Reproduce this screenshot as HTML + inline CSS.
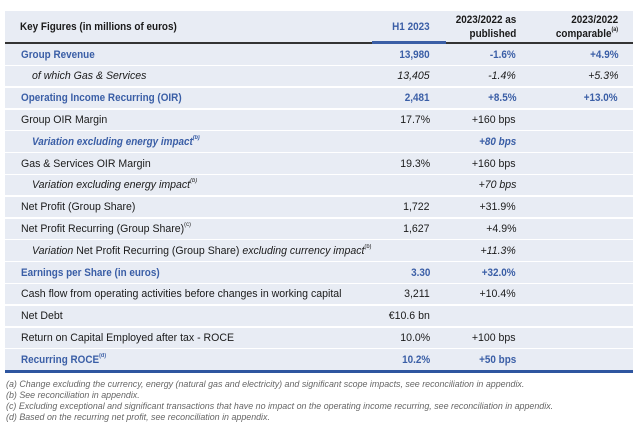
<!DOCTYPE html>
<html><head><meta charset="utf-8"><style>
body{margin:0;width:640px;height:435px;background:#fff;font-family:"Liberation Sans",sans-serif;color:#1a1a1a;position:relative;overflow:hidden}
.bg{position:absolute;left:5px;top:11px;width:628px;height:361px;background:#e8ecf4}
.sep{position:absolute;left:5px;width:628px;height:1.5px;background:#fff}
.t{position:absolute;font-size:11px;white-space:nowrap;line-height:14px}
.l{transform:scaleX(.96);transform-origin:left center}
.r{transform:scaleX(.96);transform-origin:right center;text-align:right}
.l.bo,.l.b{transform:scaleX(.9)}
.r.bo,.r.b{transform:scaleX(.9)}
.bo{font-weight:bold}
.b{color:#3a5ea6;font-weight:bold}
.i{font-style:italic}
sup{font-size:6px;vertical-align:top;line-height:6px}
.fn{position:absolute;left:6px;font-size:8.9px;font-style:italic;color:#666;white-space:nowrap;line-height:10px}
</style></head><body>
<div class="bg"></div>
<div style="position:absolute;left:5px;top:42px;width:628px;height:1.5px;background:#333"></div>
<div style="position:absolute;left:372px;top:41px;width:74px;height:3px;background:#3a5ea6"></div>
<div style="position:absolute;left:5px;top:370px;width:628px;height:3px;background:#2f56a0"></div>
<div id="rows"></div>
<div class="t l bo" style="left:20px;top:20px">Key Figures (in millions of euros)</div>
<div class="t r b" style="right:210px;top:20px">H1 2023</div>
<div class="t r bo" style="right:124px;top:13px">2023/2022 as<br>published</div>
<div class="t r bo" style="right:22px;top:13px">2023/2022<br>comparable<sup>(a)</sup></div>
<script>
(function(){
var rows=[
["Group Revenue","13,980","-1.6%","+4.9%","b",0],
["of which Gas &amp; Services","13,405","-1.4%","+5.3%","i",1],
["Operating Income Recurring (OIR)","2,481","+8.5%","+13.0%","b",0],
["Group OIR Margin","17.7%","+160 bps","","",0],
["Variation excluding energy impact<sup>(b)</sup>","","+80 bps","","b i",1],
["Gas &amp; Services OIR Margin","19.3%","+160 bps","","",0],
["Variation excluding energy impact<sup>(b)</sup>","","+70 bps","","i",1],
["Net Profit (Group Share)","1,722","+31.9%","","",0],
["Net Profit Recurring (Group Share)<sup>(c)</sup>","1,627","+4.9%","","",0],
["<i>Variation</i> Net Profit Recurring (Group Share) <i>excluding currency impact</i><sup>(b)</sup>","","<i>+11.3%</i>","","",1],
["Earnings per Share (in euros)","3.30","+32.0%","","b",0],
["Cash flow from operating activities before changes in working capital","3,211","+10.4%","","",0],
["Net Debt","€10.6 bn","","","",0],
["Return on Capital Employed after tax - ROCE","10.0%","+100 bps","","",0],
["Recurring ROCE<sup>(d)</sup>","10.2%","+50 bps","","b",0]];
var h="";
for(var k=0;k<rows.length;k++){var r=rows[k];var y0=43.5+k*21.8;
if(k>0)h+='<div class="sep" style="top:'+(y0-0.8)+'px"></div>';
var ty=y0+4;var c=r[4];
h+='<div class="t l '+c+'" style="left:'+(r[5]?32:21)+'px;top:'+ty+'px">'+r[0]+'</div>';
h+='<div class="t r '+c+'" style="right:210px;top:'+ty+'px">'+r[1]+'</div>';
h+='<div class="t r '+c+'" style="right:124px;top:'+ty+'px">'+r[2]+'</div>';
h+='<div class="t r '+c+'" style="right:22px;top:'+ty+'px">'+r[3]+'</div>';}
document.getElementById("rows").innerHTML=h;
})();
</script>
<div class="fn" style="top:379px">(a) Change excluding the currency, energy (natural gas and electricity) and significant scope impacts, see reconciliation in appendix.</div>
<div class="fn" style="top:390px">(b) See reconciliation in appendix.</div>
<div class="fn" style="top:401px">(c) Excluding exceptional and significant transactions that have no impact on the operating income recurring, see reconciliation in appendix.</div>
<div class="fn" style="top:412px">(d) Based on the recurring net profit, see reconciliation in appendix.</div>
</body></html>
